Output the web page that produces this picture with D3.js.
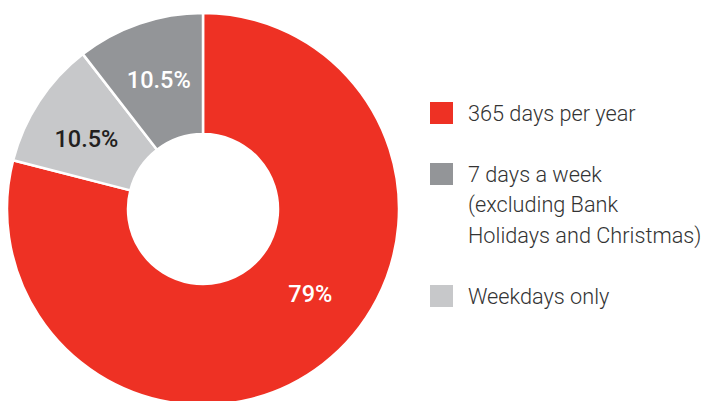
<!DOCTYPE html>
<html>
<head>
<meta charset="utf-8">
<script src="https://cdn.jsdelivr.net/npm/d3@7"></script>
<style>
  body { margin: 0; background: #fff; }
  svg { display: block; }
</style>
</head>
<body>
<div id="chart"></div>
<script>
// Data (pie order, clockwise from 12 o'clock)
const categories = ['365 days per year', 'Weekdays only', '7 days a week'];
const shares = [79, 10.5, 10.5];
const labels = ['79%', '10.5%', '10.5%'];
const colours = ['#ee3124', '#c7c8ca', '#939598'];
const labelColours = ['#ffffff', '#231f20', '#ffffff'];

// Legend (display order)
const legendItems = [
    { lines: ['365 days per year'], colour: '#ee3124' },
    { lines: ['7 days a week', '(excluding Bank', 'Holidays and Christmas)'], colour: '#939598' },
    { lines: ['Weekdays only'], colour: '#c7c8ca' }
];

const width = 705;
const height = 401;
const cx = 203, cy = 209;
const outerR = 196, innerR = 75;

const svg = d3.select('#chart')
    .append('svg')
    .attr('width', width)
    .attr('height', height);

const g = svg.append('g')
    .attr('transform', `translate(${cx},${cy})`);

const pie = d3.pie().sort(null).value(d => d);
const arcs = pie(shares);

const arc = d3.arc().innerRadius(innerR).outerRadius(outerR);

g.selectAll('path.slice')
    .data(arcs)
    .enter()
    .append('path')
    .attr('class', 'slice')
    .attr('d', arc)
    .attr('fill', (d, i) => colours[i])
    .attr('stroke', '#fff')
    .attr('stroke-width', 2.5)
    .attr('stroke-linejoin', 'miter');

// label angle nudge (big slice label sits up a bit from its centroid)
const labelShift = [-0.245, -0.035, 0];
const labelR = (innerR + outerR) / 2 + 1;

g.selectAll('text.pct')
    .data(arcs)
    .enter()
    .append('text')
    .attr('class', 'pct')
    .attr('x', (d, i) => labelR * Math.sin((d.startAngle + d.endAngle) / 2 + labelShift[i]))
    .attr('y', (d, i) => -labelR * Math.cos((d.startAngle + d.endAngle) / 2 + labelShift[i]))
    .attr('dy', '0.36em')
    .attr('text-anchor', 'middle')
    .style('font-family', 'Roboto, sans-serif')
    .style('font-weight', 500)
    .style('font-size', '23.5px')
    .attr('fill', (d, i) => labelColours[i])
    .text((d, i) => labels[i]);

// Legend
const legend = svg.append('g')
    .attr('transform', 'translate(430,102)');

const rowY = [0, 61, 183];
const lineH = 30.5;

const item = legend.selectAll('g.item')
    .data(legendItems)
    .enter()
    .append('g')
    .attr('class', 'item')
    .attr('transform', (d, i) => `translate(0,${rowY[i]})`);

item.append('rect')
    .attr('width', 23)
    .attr('height', 22)
    .attr('fill', d => d.colour);

item.each(function(d) {
    const t = d3.select(this).append('text')
        .attr('x', 38)
        .attr('y', 18.5)
        .style('font-family', 'Roboto, sans-serif')
        .style('font-weight', 300)
        .style('font-size', '21.7px')
        .attr('fill', '#333');
    d.lines.forEach((line, j) => {
        t.append('tspan')
            .attr('x', 38)
            .attr('dy', j === 0 ? 0 : lineH)
            .text(line);
    });
});
</script>
</body>
</html>
